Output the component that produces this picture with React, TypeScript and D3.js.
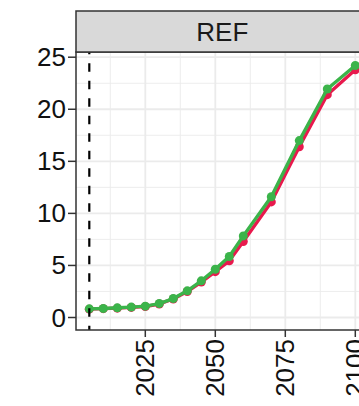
import React from "react";
import * as d3 from "d3";

const years = [2005, 2010, 2015, 2020, 2025, 2030, 2035, 2040, 2045, 2050, 2055, 2060, 2070, 2080, 2090, 2100];
const redValues = [0.8, 0.85, 0.9, 0.97, 1.05, 1.3, 1.78, 2.5, 3.4, 4.4, 5.44, 7.3, 11.1, 16.4, 21.4, 23.8];
const greenValues = [0.83, 0.87, 0.93, 1.0, 1.09, 1.34, 1.82, 2.56, 3.52, 4.64, 5.86, 7.84, 11.6, 16.99, 21.95, 24.2];
const xTicks = [2025, 2050, 2075, 2100];
const xMinor = [2012.5, 2037.5, 2062.5, 2087.5];
const yTicks = [0, 5, 10, 15, 20, 25];
const yMinor = [2.5, 7.5, 12.5, 17.5, 22.5];
const refYear = 2005;
const stripLabel = "REF";

const W = 359;
const H = 406;
const panel = { left: 76, right: 368.6, top: 52, bottom: 330 };
const stripTop = 11;
const font = "'Liberation Sans', Arial, Helvetica, sans-serif";

const App = () => {
  const x = d3.scaleLinear().domain([2000.25, 2104.75]).range([panel.left, panel.right]);
  const y = d3.scaleLinear().domain([-1.2, 25.5]).range([panel.bottom, panel.top]);

  const makeLine = (vals: number[]) =>
    d3
      .line<number>()
      .x((_, i) => x(years[i]))
      .y((d) => y(d))(vals) as string;

  const series = [
    { vals: redValues, color: "#E8194D" },
    { vals: greenValues, color: "#3BB44A" },
  ];

  return (
    <svg width={W} height={H} style={{ position: "absolute", left: 0, top: 0, background: "#fff" }}>
      <defs>
        <clipPath id="panel-clip">
          <rect x={panel.left} y={panel.top} width={panel.right - panel.left} height={panel.bottom - panel.top} />
        </clipPath>
      </defs>
      <rect x={panel.left} y={panel.top} width={panel.right - panel.left} height={panel.bottom - panel.top} fill="#fff" />
      {/* grid */}
      {xMinor.map((t) => (
        <line key={"xm" + t} x1={x(t)} x2={x(t)} y1={panel.top} y2={panel.bottom} stroke="#EBEBEB" strokeWidth={0.9} />
      ))}
      {yMinor.map((t) => (
        <line key={"ym" + t} x1={panel.left} x2={panel.right} y1={y(t)} y2={y(t)} stroke="#EBEBEB" strokeWidth={0.9} />
      ))}
      {xTicks.map((t) => (
        <line key={"xg" + t} x1={x(t)} x2={x(t)} y1={panel.top} y2={panel.bottom} stroke="#EBEBEB" strokeWidth={1.8} />
      ))}
      {yTicks.map((t) => (
        <line key={"yg" + t} x1={panel.left} x2={panel.right} y1={y(t)} y2={y(t)} stroke="#EBEBEB" strokeWidth={1.8} />
      ))}
      <g clipPath="url(#panel-clip)">
        {series.map((s, k) => (
          <g key={k}>
            <path d={makeLine(s.vals)} fill="none" stroke={s.color} strokeWidth={3.4} strokeLinejoin="round" />
            {s.vals.map((v, i) => (
              <circle key={i} cx={x(years[i])} cy={y(v)} r={4.5} fill={s.color} />
            ))}
          </g>
        ))}
        <line
          x1={x(refYear)}
          x2={x(refYear)}
          y1={panel.top}
          y2={panel.bottom}
          stroke="#000"
          strokeWidth={2.2}
          strokeDasharray="8.5,9"
          strokeDashoffset={6.2}
        />
      </g>
      {/* panel border */}
      <rect
        x={panel.left}
        y={panel.top}
        width={panel.right - panel.left}
        height={panel.bottom - panel.top}
        fill="none"
        stroke="#333"
        strokeWidth={1.5}
      />
      {/* strip */}
      <rect
        x={panel.left}
        y={stripTop}
        width={panel.right - panel.left}
        height={panel.top - stripTop}
        fill="#D9D9D9"
        stroke="#333"
        strokeWidth={1.5}
      />
      <text
        x={(panel.left + panel.right) / 2}
        y={(stripTop + panel.top) / 2}
        textAnchor="middle"
        dominantBaseline="central"
        fontFamily={font}
        fontSize={26}
        fill="#1A1A1A"
      >
        {stripLabel}
      </text>
      {/* y axis */}
      {yTicks.map((t) => (
        <g key={"yt" + t}>
          <line x1={panel.left - 8} x2={panel.left} y1={y(t)} y2={y(t)} stroke="#333" strokeWidth={1.5} />
          <text
            x={panel.left - 10}
            y={y(t)}
            textAnchor="end"
            dominantBaseline="central"
            fontFamily={font}
            fontSize={26}
            fill="#111"
          >
            {t}
          </text>
        </g>
      ))}
      {/* x axis */}
      {xTicks.map((t) => (
        <g key={"xt" + t}>
          <line x1={x(t)} x2={x(t)} y1={panel.bottom} y2={panel.bottom + 7} stroke="#333" strokeWidth={1.5} />
          <text
            transform={`translate(${x(t)},${panel.bottom + 9}) rotate(-90)`}
            textAnchor="end"
            dominantBaseline="central"
            fontFamily={font}
            fontSize={26}
            fill="#111"
          >
            {t}
          </text>
        </g>
      ))}
    </svg>
  );
};

export default App;
